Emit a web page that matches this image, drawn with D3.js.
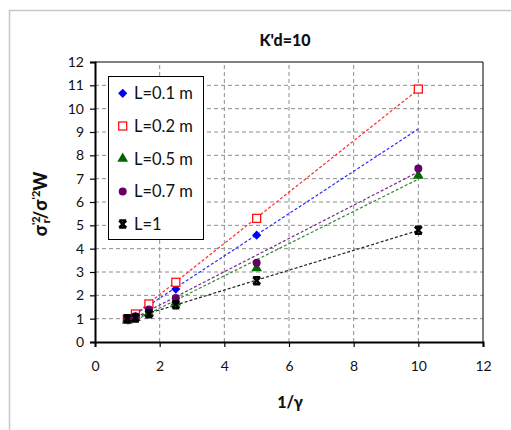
<!DOCTYPE html>
<html><head><meta charset="utf-8">
<script src="https://cdn.jsdelivr.net/npm/d3@7"></script>
<style>body{margin:0;background:#fff}svg{display:block}</style>
</head><body>
<script>
const xValues = [1, 1.25, 1.667, 2.5, 5, 10];
const seriesNames = ["L=0.1 m", "L=0.2 m", "L=0.5 m", "L=0.7 m", "L=1"];
const L01 = [1.0, 1.13, 1.5, 2.27, 4.58, null];
const L02 = [0.99, 1.2, 1.63, 2.56, 5.3, 10.84];
const L05 = [0.93, 1.03, 1.24, 1.7, 3.16, 7.13];
const L07 = [1.0, 1.1, 1.39, 1.89, 3.4, 7.44];
const L1 = [1.0, 1.03, 1.21, 1.6, 2.63, 4.79];
const trendX = [1, 10];
const trendStart = [0.97, 0.93, 0.76, 0.87, 0.95];
const trendEnd = [9.13, 10.82, 6.98, 7.29, 4.78];
const xTicks = [0, 2, 4, 6, 8, 10, 12];
const yTicks = [0,1,2,3,4,5,6,7,8,9,10,11,12];

const colors = ["#0000ff", "#ff0000", "#006600", "#660066", "#000000"];
const lineColors = ["#2a2aff", "#ff2a2a", "#2e8b2e", "#7a2a8a", "#222222"];
const values = [L01, L02, L05, L07, L1];

const W = 511, H = 430;
const svg = d3.select("body").append("svg").attr("width", W).attr("height", H);
svg.append("rect").attr("width", W).attr("height", H).attr("fill", "#fff");
svg.append("path").attr("d", `M9.5,${H}V10.5H${W}`).attr("fill", "none").attr("stroke", "#c8c8c8").attr("stroke-width", 1.5);

const x = d3.scaleLinear().domain([0, 12]).range([95, 483]);
const y = d3.scaleLinear().domain([0, 12]).range([342, 62]);
const font = "Lato, 'Open Sans', sans-serif";

const g = svg.append("g");
g.selectAll(".gx").data(xTicks.filter(t => t > 0 && t < 12)).join("line")
  .attr("x1", d => x(d)).attr("x2", d => x(d)).attr("y1", y(0)).attr("y2", y(12))
  .attr("stroke", "#8c8c8c").attr("stroke-dasharray", "4,3").attr("stroke-width", 1);
g.selectAll(".gy").data(yTicks.filter(t => t > 0 && t < 12)).join("line")
  .attr("y1", d => y(d)).attr("y2", d => y(d)).attr("x1", x(0)).attr("x2", x(12))
  .attr("stroke", "#8c8c8c").attr("stroke-dasharray", "4,3").attr("stroke-width", 1);
svg.append("path").attr("d", `M${x(0)},${y(12)}H${x(12)}V${y(0)}`).attr("fill", "none").attr("stroke", "#000").attr("stroke-width", 1);

const xAxis = svg.append("g").attr("transform", `translate(0,${y(0)})`)
  .call(d3.axisBottom(x).tickValues(xTicks).tickSize(5).tickPadding(14));
const yAxis = svg.append("g").attr("transform", `translate(${x(0)},0)`)
  .call(d3.axisLeft(y).tickValues(yTicks).tickSize(5).tickPadding(6));
[xAxis, yAxis].forEach(a => {
  a.select(".domain").attr("stroke", "#000").attr("stroke-width", 2);
  a.selectAll(".tick line").attr("stroke", "#000").attr("stroke-width", 1.2);
  a.selectAll("text").attr("font-family", font).attr("font-size", 14).attr("fill", "#111");
});

values.forEach((v, i) => {
  svg.append("line")
    .attr("x1", x(trendX[0])).attr("y1", y(trendStart[i]))
    .attr("x2", x(trendX[1])).attr("y2", y(trendEnd[i]))
    .attr("stroke", lineColors[i]).attr("stroke-width", 1.2).attr("stroke-dasharray", "3,2");
});

const starPath = "M-3.5,-3.5L3.5,3.5M-3.5,3.5L3.5,-3.5M-3.5,-3.5H3.5M-3.5,3.5H3.5";
function drawMarker(sel, i) {
  if (i === 0) sel.append("path").attr("d", "M0,-4.6L4.6,0L0,4.6L-4.6,0Z").attr("fill", colors[0]);
  else if (i === 1) sel.append("rect").attr("x", -4).attr("y", -4).attr("width", 8).attr("height", 8)
    .attr("fill", "#fff").attr("stroke", colors[1]).attr("stroke-width", 1.2);
  else if (i === 2) sel.append("path").attr("d", d3.symbol(d3.symbolTriangle, 50)()).attr("fill", colors[2]);
  else if (i === 3) sel.append("path").attr("d", d3.symbol(d3.symbolCircle, 50)()).attr("fill", colors[3]);
  else sel.append("path").attr("d", starPath).attr("stroke", "#000").attr("stroke-width", 2.5).attr("fill", "none");
}
values.forEach((v, i) => {
  xValues.forEach((xv, j) => {
    if (v[j] == null) return;
    const m = svg.append("g").attr("transform", `translate(${x(xv)},${y(v[j])})`);
    drawMarker(m, i);
  });
});

svg.append("rect").attr("x", 108.5).attr("y", 76.5).attr("width", 95).attr("height", 163)
  .attr("fill", "#fff").attr("stroke", "#000").attr("stroke-width", 1);
seriesNames.forEach((n, i) => {
  const cy = 93.3 + i * 32.7;
  const m = svg.append("g").attr("transform", `translate(122.7,${cy})`);
  drawMarker(m, i);
  svg.append("text").attr("x", 134).attr("y", cy + 6).attr("font-family", font).attr("font-size", 16.5)
    .attr("fill", "#111").text(n);
});

svg.append("text").attr("x", 285).attr("y", 46).attr("text-anchor", "middle")
  .attr("font-family", font).attr("font-weight", 900).attr("font-size", 16).attr("fill", "#111").text("K'd=10");
svg.append("text").attr("x", 290).attr("y", 408).attr("text-anchor", "middle")
  .attr("font-family", font).attr("font-weight", 900).attr("font-size", 16).attr("fill", "#111").text("1/γ");
const yl = svg.append("text").attr("transform", "translate(47,204) rotate(-90)").attr("text-anchor", "middle")
  .attr("font-family", font).attr("font-weight", 900).attr("font-size", 18).attr("fill", "#111");
yl.append("tspan").text("σ");
yl.append("tspan").attr("font-size", 11).attr("dy", -7).text("'2");
yl.append("tspan").attr("font-size", 11).attr("dy", 10).attr("dx", -7).text("r");
yl.append("tspan").attr("dy", -3).text("/σ");
yl.append("tspan").attr("font-size", 11).attr("dy", -7).text("'2");
yl.append("tspan").attr("dy", 7).text("W");
</script>
</body></html>
